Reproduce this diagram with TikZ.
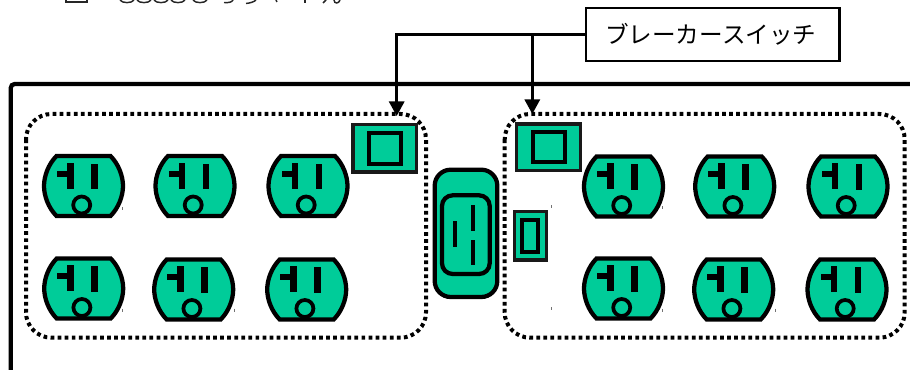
\documentclass[tikz,border=0pt]{standalone}
\usepackage{fontspec}
\usetikzlibrary{arrows.meta}
\newfontfamily\cjkfont{Noto Sans CJK JP}
\definecolor{socket}{HTML}{00CC99}
\tikzset{
  x=0.75pt, y=-0.75pt,
  heavy/.style={draw=black, line width=3.2pt},
  faceplate/.style={heavy, fill=socket},
  plate/.style={draw=black!90, line width=2.6pt, fill=socket},
  dotbox/.style={draw=black, line width=3pt, dash pattern=on 2.8pt off 2.5pt, rounded corners=19pt},
  connector/.style={draw=black, line width=1.9pt, -{Triangle[length=11pt,width=11.5pt]}},
  tick/.style={draw=black!55, line width=0.6pt},
  frag/.style={draw=black!85, line width=1.1pt},
  outlet/.pic={
    \draw[faceplate,miter limit=10] (-27,-30) -- (27,-30)
       .. controls (35,-22) and (39.5,-10) .. (39.5,0)
       .. controls (39.5,10) and (35,22) .. (27,30)
       -- (-27,30)
       .. controls (-35,22) and (-39.5,10) .. (-39.5,0)
       .. controls (-39.5,-10) and (-35,-22) .. (-27,-30) -- cycle;
    \fill[black] (-16.5,-23) rectangle (-10,3);
    \fill[black] (-26.5,-15) rectangle (-16.5,-9);
    \fill[black] (7.5,-22) rectangle (14,3.5);
    \draw[faceplate,line width=2.8pt] (-1.8,19) circle (8.5);
  }
}
\begin{document}
\begin{tikzpicture}
\useasboundingbox (0,0) rectangle (910,370);
\clip (0,0) rectangle (910,370);

% cut-off line of text at the very top edge
\draw[frag] (66,0) -- (66,2) -- (87,2) -- (87,0);
\foreach \a in {120,137,154,171,193}
  \draw[frag] (\a,0) .. controls (\a+2,3.5) and (\a+12,3.5) .. (\a+14,0);
\draw[frag] (224,2.5) .. controls (229,3) and (232,2) .. (233,0);
\draw[frag] (246,3.5) .. controls (250,3) and (254,2) .. (256,0);
\draw[frag] (276,0) -- (277,2);
\draw[frag] (305,0) -- (305,3.5);
\draw[frag] (323,3) -- (326,0);
\draw[frag] (334,0) .. controls (334,4) and (339,4) .. (340,0);

% housing
\coordinate (housing) at (10.7,84);
\draw[heavy, rounded corners=3pt] (912,84) -- (housing) -- (10.7,372);

% dotted groups
\draw[dotbox] (26,114) rectangle (426,337.7);
\draw[dotbox] (504.7,114) rectangle (904.7,337.7);

% outlets
\foreach \n/\cx/\cy in {a/83.5/186, b/195/186, c/308/186, d/83.7/288.5, e/193.7/289.5, f/306.7/289.5,
                        g/623.5/186.5, h/734.7/186.5, i/848/186.5, j/623.5/288.5, k/733.7/289.5, l/847/289.5}
  \pic (\n) at (\cx,\cy) {outlet};

% breaker switches
\draw[plate] (353,124.5) rectangle (416.5,172);
\draw[heavy, fill=socket] (368.7,133) rectangle (400.7,164);
\draw[plate] (516.7,124) rectangle (580.6,170.6);
\draw[heavy, fill=socket] (533,132) rectangle (564.7,162.3);

% inlet
\draw[faceplate, rounded corners=12pt] (434.7,169.7) rectangle (497.3,297);
\draw[faceplate, rounded corners=8pt] (442,195.3) rectangle (489.7,274);
\fill[black] (453.3,221.3) rectangle (457.3,246.7);
\fill[black] (470.7,205.3) rectangle (474.7,230.7);
\fill[black] (470.7,240) rectangle (474.7,265.3);

% small switch
\draw[plate] (514.6,211.6) rectangle (546.7,260);
\draw[heavy, fill=socket] (522.3,220) rectangle (538,252);

% stray marks
\foreach \tx/\ty in {122/208.5, 122/310, 234.5/310, 662.5/208, 662.5/310, 775/310, 551.7/207, 551.7/308.5}
  \draw[tick] (\tx,\ty-1.5) -- (\tx,\ty+1.5);

% label and connectors
\node[draw=black, line width=1.9pt, fill=white, inner sep=0pt,
      minimum width=190pt, minimum height=40pt, font=\cjkfont\fontsize{17.7pt}{20pt}\selectfont]
  (label) at (712.8,34.5) {\hspace{-3pt}ブレーカースイッチ};
\coordinate (tipL) at (396.7,116);
\coordinate (tipR) at (532.3,114);
\draw[connector] (label.west) -| (tipL);
\draw[connector] (label.west -| tipR) -- (tipR);
\end{tikzpicture}
\end{document}
